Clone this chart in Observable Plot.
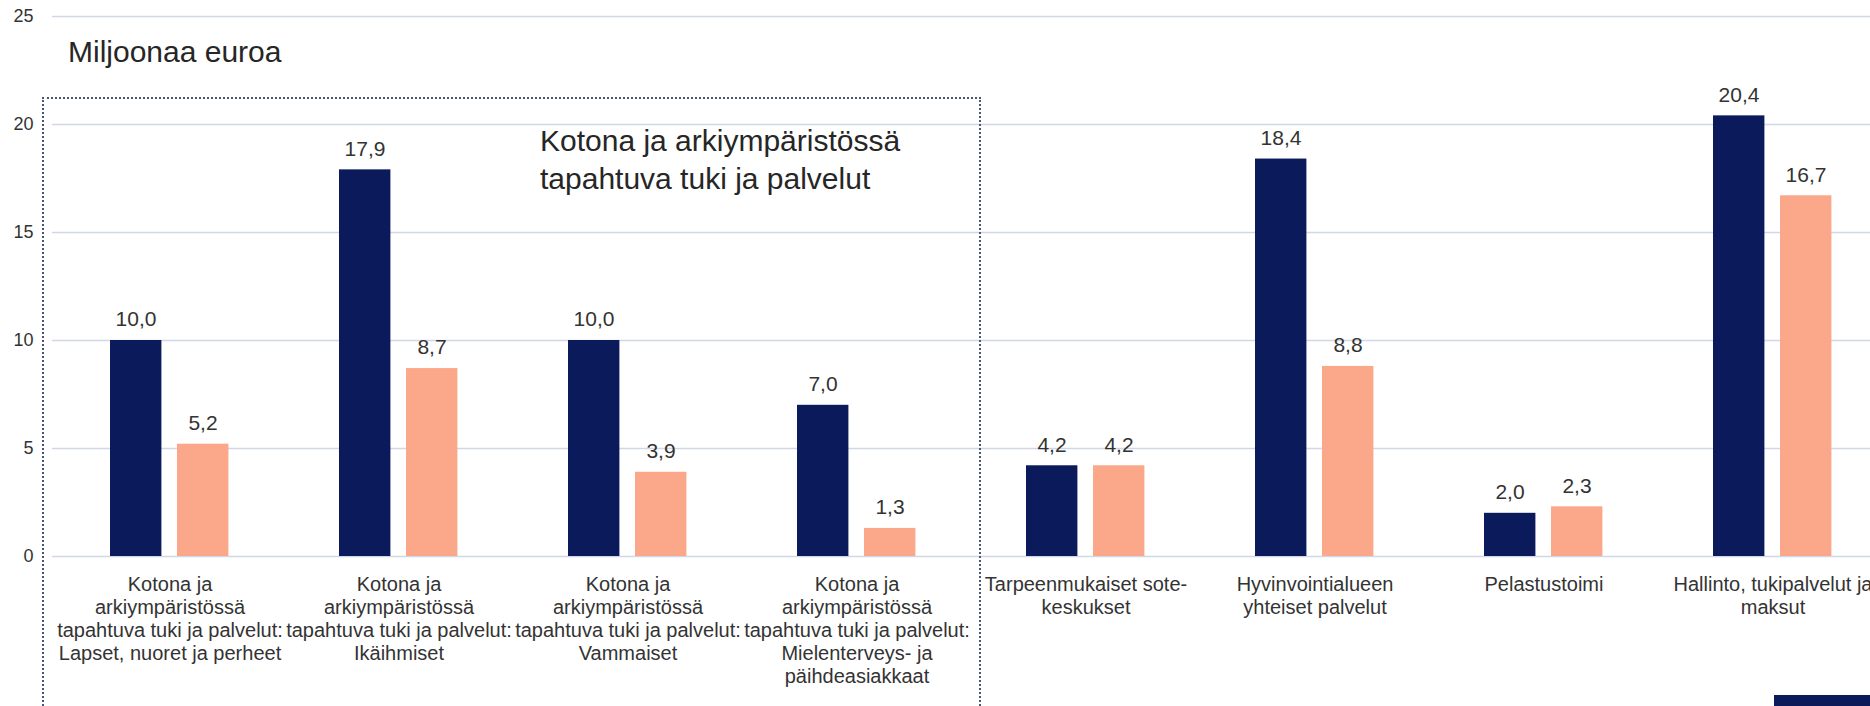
<!DOCTYPE html>
<html>
<head>
<meta charset="utf-8">
<script src="https://cdn.jsdelivr.net/npm/d3@7"></script>
<script src="https://cdn.jsdelivr.net/npm/@observablehq/plot@0.6"></script>
<style>
  html, body { margin: 0; padding: 0; background: #fff; overflow: hidden; }
  #wrap { position: relative; width: 1870px; height: 706px; overflow: hidden; font-family: "Liberation Sans", Arial, sans-serif; }
  #chart svg { display: block; }
  .unit { position: absolute; left: 68px; top: 37px; font-size: 30px; line-height: 30px; color: #262626; white-space: nowrap; }
  .note { position: absolute; left: 540px; top: 122px; font-size: 30px; line-height: 38px; color: #262626; white-space: nowrap; }
  .box { position: absolute; left: 42px; top: 97px; width: 939px; height: 720px; border: 2px dotted #4a5675; box-sizing: border-box; }
  .logo { position: absolute; left: 1774px; top: 695px; width: 96px; height: 11px; background: #0b1a5b; }
</style>
</head>
<body>
<div id="wrap">
  <div id="chart"></div>
  <div class="box"></div>
  <div class="unit">Miljoonaa euroa</div>
  <div class="note">Kotona ja arkiympäristössä<br>tapahtuva tuki ja palvelut</div>
  <div class="logo"></div>
</div>
<script>
const categories = [
  "Kotona ja arkiympäristössä tapahtuva tuki ja palvelut: Lapset, nuoret ja perheet",
  "Kotona ja arkiympäristössä tapahtuva tuki ja palvelut: Ikäihmiset",
  "Kotona ja arkiympäristössä tapahtuva tuki ja palvelut: Vammaiset",
  "Kotona ja arkiympäristössä tapahtuva tuki ja palvelut: Mielenterveys- ja päihdeasiakkaat",
  "Tarpeenmukaiset sote-keskukset",
  "Hyvinvointialueen yhteiset palvelut",
  "Pelastustoimi",
  "Hallinto, tukipalvelut ja maksut"
];
const tickLabels = [
  "Kotona ja\narkiympäristössä\ntapahtuva tuki ja palvelut:\nLapset, nuoret ja perheet",
  "Kotona ja\narkiympäristössä\ntapahtuva tuki ja palvelut:\nIkäihmiset",
  "Kotona ja\narkiympäristössä\ntapahtuva tuki ja palvelut:\nVammaiset",
  "Kotona ja\narkiympäristössä\ntapahtuva tuki ja palvelut:\nMielenterveys- ja\npäihdeasiakkaat",
  "Tarpeenmukaiset sote-\nkeskukset",
  "Hyvinvointialueen\nyhteiset palvelut",
  "Pelastustoimi",
  "Hallinto, tukipalvelut ja\nmaksut"
];
const seriesNavy = [10.0, 17.9, 10.0, 7.0, 4.2, 18.4, 2.0, 20.4];
const seriesSalmon = [5.2, 8.7, 3.9, 1.3, 4.2, 8.8, 2.3, 16.7];
const yTicks = [0, 5, 10, 15, 20, 25];

const navy = "#0b1a5b";
const salmon = "#fba88a";
const fmt = v => v.toFixed(1).replace(".", ",");

const dataNavy = categories.map((c, i) => ({category: c, value: seriesNavy[i]}));
const dataSalmon = categories.map((c, i) => ({category: c, value: seriesSalmon[i]}));

const chart = Plot.plot({
  width: 1870,
  height: 706,
  marginTop: 16,
  marginBottom: 150,
  marginLeft: 52,
  marginRight: 0,
  style: {fontFamily: "'Liberation Sans', Arial, sans-serif", color: "#333", background: "transparent", overflow: "hidden"},
  x: {domain: categories, range: [52, 1889], padding: 0},
  y: {domain: [0, 25], ticks: yTicks},
  marks: [
    Plot.gridY(yTicks, {stroke: "#cfd7e8", strokeOpacity: 1, strokeWidth: 1.6}),
    Plot.axisY({ticks: yTicks, tickSize: 0, tickPadding: 19, fontSize: 18, label: null, fill: "#333"}),
    Plot.axisX({tickSize: 0, tickPadding: 18, fontSize: 20, lineHeight: 1.15, label: null, fill: "#333",
      tickFormat: d => tickLabels[categories.indexOf(d)]}),
    Plot.barY(dataNavy, {x: "category", y: "value", fill: navy, insetLeft: 55, insetRight: 122.6}),
    Plot.barY(dataSalmon, {x: "category", y: "value", fill: salmon, insetLeft: 122, insetRight: 55.6}),
    Plot.text(dataNavy, {x: "category", y: "value", text: d => fmt(d.value), dx: -34, dy: -21, fontSize: 21, fill: "#333"}),
    Plot.text(dataSalmon, {x: "category", y: "value", text: d => fmt(d.value), dx: 33, dy: -21, fontSize: 21, fill: "#333"})
  ]
});
document.getElementById("chart").appendChild(chart);
</script>
</body>
</html>
